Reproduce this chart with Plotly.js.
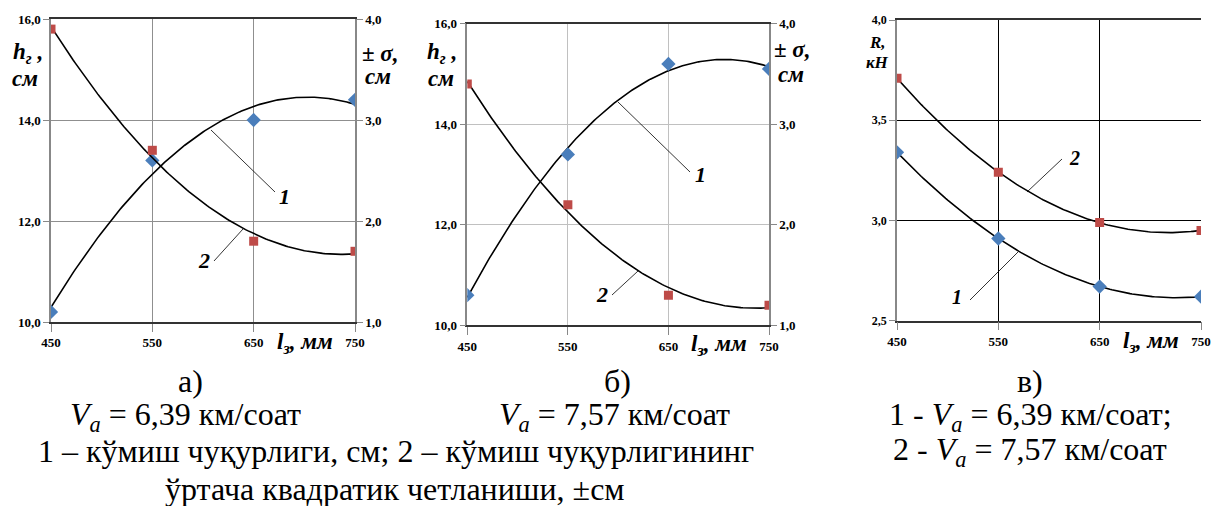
<!DOCTYPE html>
<html>
<head>
<meta charset="utf-8">
<script src="https://cdn.plot.ly/plotly-3.0.1.min.js"></script>
<style>
html,body{margin:0;padding:0;background:#fff;}
.modebar-container{display:none !important;}
#chart svg text, #chart svg tspan { font-family: 'Liberation Serif' !important; }
</style>
</head>
<body>
<div id="chart" style="width:1211px;height:506px"></div>
<script>
// ---- data ----
const lengths = [450, 550, 650, 750];          // l_з, мм
const xTickText = ['450', '550', '650', '750'];
// panel а) V_a = 6,39 км/соат
const aDepth = [10.2, 13.2, 14.0, 14.4];        // 1 – h_г, см (left axis)
const aSigma = [3.9, 2.7, 1.8, 1.7];            // 2 – ±σ, см (right axis)
// panel б) V_a = 7,57 км/соат
const bDepth = [10.6, 13.4, 15.2, 15.1];
const bSigma = [3.4, 2.2, 1.3, 1.2];
// panel в) R, кН
const cR1 = [3.34, 2.91, 2.67, 2.62];           // 1 - V_a = 6,39
const cR2 = [3.71, 3.24, 2.99, 2.95];           // 2 - V_a = 7,57

// quadratic least-squares trendline (as the source chart's polynomial trendline)
function quadFit(xs, ys) {
  const n = xs.length, m = xs.reduce((s, v) => s + v, 0) / n;
  let S = [0,0,0,0,0], T = [0,0,0];
  xs.forEach((x, i) => {
    const t = x - m;
    for (let k = 0; k < 5; k++) S[k] += Math.pow(t, k);
    for (let k = 0; k < 3; k++) T[k] += ys[i] * Math.pow(t, k);
  });
  const M3 = [[S[0],S[1],S[2]],[S[1],S[2],S[3]],[S[2],S[3],S[4]]];
  const det = M => M[0][0]*(M[1][1]*M[2][2]-M[1][2]*M[2][1]) - M[0][1]*(M[1][0]*M[2][2]-M[1][2]*M[2][0]) + M[0][2]*(M[1][0]*M[2][1]-M[1][1]*M[2][0]);
  const D = det(M3);
  const coef = [0,1,2].map(c => det(M3.map((row, r) => row.map((v, j) => j === c ? T[r] : v))) / D);
  const fx = [], fy = [];
  const x0 = xs[0], x1 = xs[xs.length - 1];
  for (let i = 0; i <= 150; i++) {
    const x = x0 + (x1 - x0) * i / 150, t = x - m;
    fx.push(x); fy.push(coef[0] + coef[1]*t + coef[2]*t*t);
  }
  return {x: fx, y: fy};
}

const BLUE = '#4a7ebb', RED = '#be4b48';
function curve(xs, ys, xa, ya) {
  const f = quadFit(xs, ys);
  return {x: f.x, y: f.y, xaxis: xa, yaxis: ya, mode: 'lines', line: {color: '#000', width: 1.6}, hoverinfo: 'skip', showlegend: false};
}
function pts(xs, ys, xa, ya, sym, col) {
  return {x: xs, y: ys, xaxis: xa, yaxis: ya, mode: 'markers', marker: {symbol: sym, color: col, size: sym === 'square' ? 9 : 11}, showlegend: false};
}

const traces = [
  curve(lengths, aDepth, 'x', 'y'), curve(lengths, aSigma, 'x', 'y2'),
  curve(lengths, bDepth, 'x2', 'y3'), curve(lengths, bSigma, 'x2', 'y4'),
  curve(lengths, cR1, 'x3', 'y5'), curve(lengths, cR2, 'x3', 'y5'),
  pts(lengths, aDepth, 'x', 'y', 'diamond', BLUE), pts(lengths, aSigma, 'x', 'y2', 'square', RED),
  pts(lengths, bDepth, 'x2', 'y3', 'diamond', BLUE), pts(lengths, bSigma, 'x2', 'y4', 'square', RED),
  pts(lengths, cR1, 'x3', 'y5', 'diamond', BLUE), pts(lengths, cR2, 'x3', 'y5', 'square', RED)
];

const W = 1211, H = 506;
const px = v => v / W, py = v => 1 - v / H;
const SERIF = 'Liberation Serif';
const tickFont = {family: SERIF, size: 13, color: '#000', weight: 'bold'};

function xAx(d0, d1, anchor, grid) {
  return {domain: [px(d0), px(d1)], range: [450, 750], tickvals: lengths, ticktext: xTickText,
    anchor: anchor, showgrid: true, gridcolor: grid, gridwidth: 1, showline: true, linecolor: '#333', linewidth: 1.5,
    mirror: true, ticks: 'outside', ticklen: 8, tickcolor: '#888', tickfont: tickFont, zeroline: false};
}
function yAx(t0, t1, anchor, range, dtick, grid, fontSize) {
  return {domain: [py(t1), py(t0)], range: range, dtick: dtick, tick0: range[0], tickformat: '.1f', anchor: anchor,
    showgrid: true, gridcolor: grid, showline: true, linecolor: '#888', linewidth: 1.5, ticks: 'outside', ticklen: 6, tickcolor: '#888',
    tickfont: Object.assign({}, tickFont, {size: fontSize}), zeroline: false};
}
function yRight(overlay, anchor, range) {
  return {overlaying: overlay, side: 'right', anchor: anchor, range: range, dtick: 1, tick0: 1, tickformat: '.1f',
    showgrid: false, showline: true, linecolor: '#888', linewidth: 1.5, ticks: 'outside', ticklen: 6, tickcolor: '#888',
    tickfont: tickFont, zeroline: false};
}

const lblFont = (s) => ({family: SERIF, size: s, color: '#000'});
function ann(x, y, text, size) {
  return {xref: 'paper', yref: 'paper', x: px(x), y: py(y), text: text, showarrow: false,
    xanchor: 'center', yanchor: 'middle', font: lblFont(size)};
}
function seg(x0, y0, x1, y1) {
  return {type: 'line', xref: 'paper', yref: 'paper', x0: px(x0), y0: py(y0), x1: px(x1), y1: py(y1), line: {color: '#000', width: 0.8}};
}

const Va = '<i>V<sub>a</sub></i>';
const CAP = 32;
const layout = {
  width: W, height: H, margin: {l: 0, r: 0, t: 0, b: 0}, paper_bgcolor: '#fff', plot_bgcolor: '#fff',
  separators: ', ', showlegend: false, font: {family: SERIF, color: '#000'},
  xaxis: xAx(51, 355, 'y', '#8f8f8f'),
  yaxis: yAx(19, 322, 'x', [10, 16], 2, '#8f8f8f', 13),
  yaxis2: yRight('y', 'x', [1, 4]),
  xaxis2: xAx(467.3, 769, 'y3', '#c0c0c0'),
  yaxis3: yAx(23.7, 325.3, 'x2', [10, 16], 2, '#c0c0c0', 13),
  yaxis4: yRight('y3', 'x2', [1, 4]),
  xaxis3: Object.assign(xAx(897, 1201, 'y5', '#000'), {gridwidth: 1.3}),
  yaxis5: Object.assign(yAx(20, 320.7, 'x3', [2.5, 4], 0.5, '#000', 12), {gridwidth: 1.3}),
  shapes: [
    seg(211, 130, 275, 192), seg(243, 229, 214, 261),
    seg(618, 102, 690, 172), seg(638, 271, 612, 295),
    seg(1062, 159, 1027, 192), seg(970, 300, 1018, 252)
  ],
  annotations: [
    // panel а axis titles
    ann(28, 53, '<b><i>h<sub>г</sub> ,</i></b>', 23),
    ann(25, 78, '<b><i>см</i></b>', 23),
    ann(380, 53, '<b><i>± σ,</i></b>', 23),
    ann(378, 76, '<b><i>см</i></b>', 23),
    ann(305, 343, '<b><i>l<sub>з</sub>, мм</i></b>', 23),
    ann(284, 196, '<b><i>1</i></b>', 22),
    ann(204, 260, '<b><i>2</i></b>', 22),
    // panel б
    ann(442, 53, '<b><i>h<sub>г</sub> ,</i></b>', 23),
    ann(441, 78, '<b><i>см</i></b>', 23),
    ann(792, 50, '<b><i>± σ,</i></b>', 23),
    ann(791, 74, '<b><i>см</i></b>', 23),
    ann(719, 345, '<b><i>l<sub>з</sub>, мм</i></b>', 23),
    ann(700, 174, '<b><i>1</i></b>', 22),
    ann(602, 294, '<b><i>2</i></b>', 22),
    // panel в
    ann(877, 43, '<b><i>R,</i></b>', 17),
    ann(877, 63, '<b><i>кН</i></b>', 17),
    ann(1151, 342, '<b><i>l<sub>з</sub>, мм</i></b>', 23),
    ann(1074, 158, '<b><i>2</i></b>', 20),
    ann(957, 297, '<b><i>1</i></b>', 20),
    // captions
    ann(190, 381, 'а)', CAP),
    ann(185, 416, Va + ' = 6,39 км/соат', CAP),
    ann(617, 381, 'б)', CAP),
    ann(615, 416, Va + ' = 7,57 км/соат', CAP),
    ann(396, 451, '1 – кўмиш чуқурлиги, см; 2 – кўмиш чуқурлигининг', CAP),
    ann(395, 489, 'ўртача квадратик четланиши, ±см', CAP),
    ann(1030, 381, 'в)', CAP),
    ann(1030, 416, '1 - ' + Va + ' = 6,39 км/соат;', CAP),
    ann(1030, 451, '2 - ' + Va + ' = 7,57 км/соат', CAP)
  ]
};

Plotly.newPlot('chart', traces, layout);
</script>
</body>
</html>
